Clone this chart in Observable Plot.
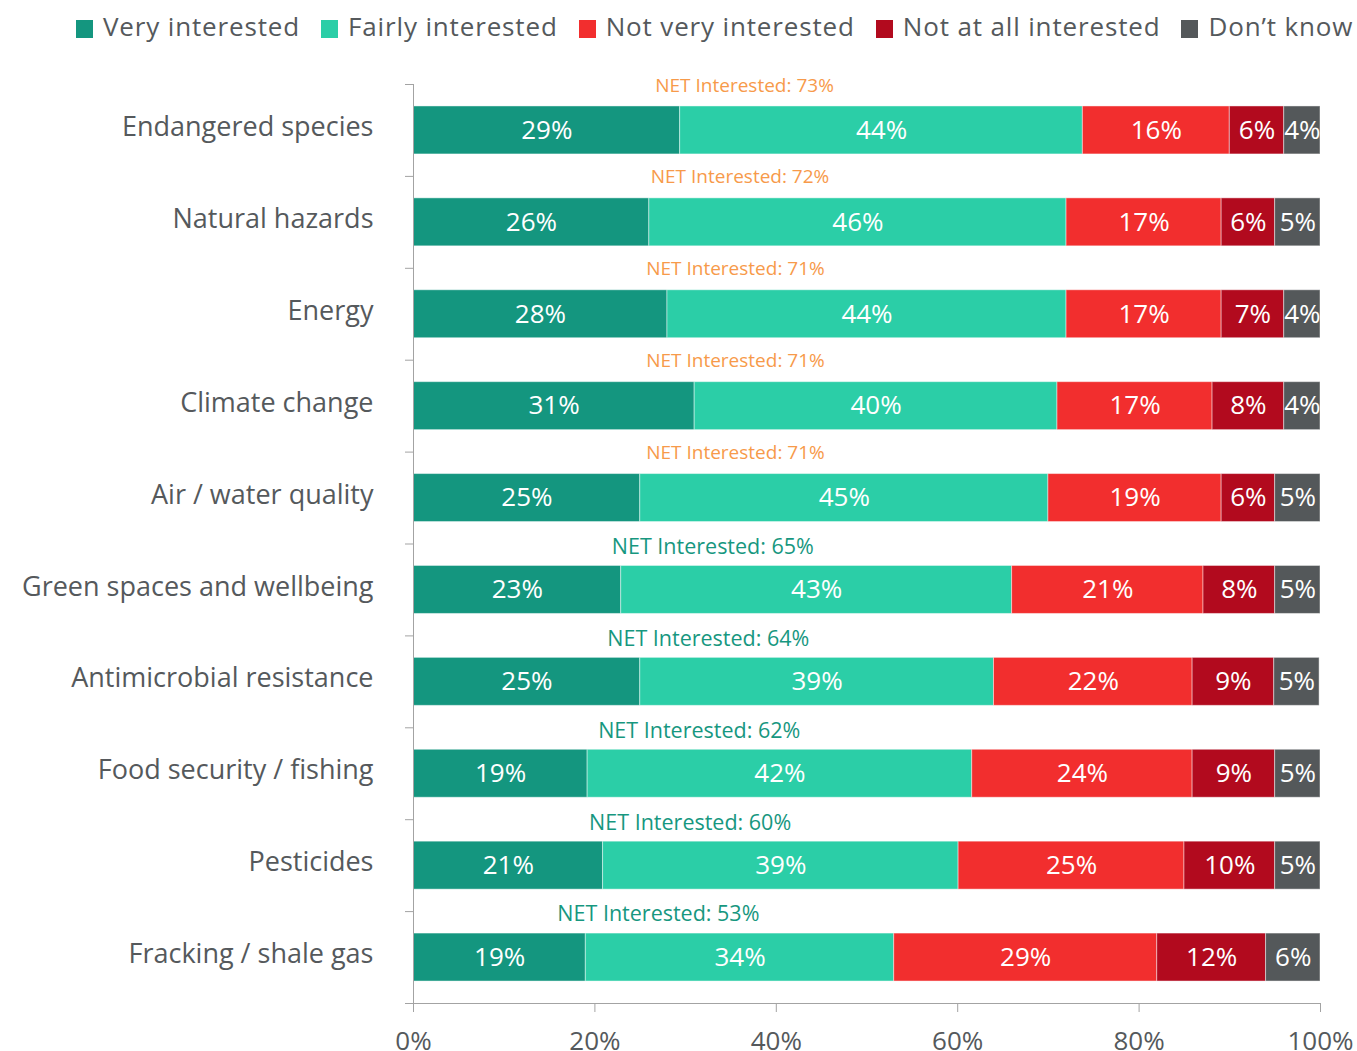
<!DOCTYPE html>
<html><head><meta charset="utf-8">
<script src="https://cdn.jsdelivr.net/npm/d3@7"></script>
<script src="https://cdn.jsdelivr.net/npm/@observablehq/plot@0.6"></script>
<style>
body{margin:0;background:#fff;font-family:"Open Sans",sans-serif;color:#55595c;}
#legend{display:flex;height:48px;padding-left:76px;box-sizing:border-box;font-size:26px;white-space:nowrap;letter-spacing:0.85px;}
.item{display:flex;align-items:center;margin-right:21px;margin-top:8px;height:36px;}
.sw{width:17px;height:18px;margin-right:10px;margin-top:6px;}
svg{overflow:visible;display:block}
</style></head><body>
<div id="legend"></div><div id="chart"></div>
<script>
const topics = ["Endangered species","Natural hazards","Energy","Climate change","Air / water quality","Green spaces and wellbeing","Antimicrobial resistance","Food security / fishing","Pesticides","Fracking / shale gas"];
const responses = ["Very interested","Fairly interested","Not very interested","Not at all interested","Don’t know"];
const colors = ["#14967f","#2bcea7","#f22e2e","#b20a1e","#54585a"];
const veryInterested   = [29.4,26.0,28.0,31.0,25.0,22.9,25.0,19.2,20.9,19.0];
const fairlyInterested = [44.4,46.0,44.0,40.0,45.0,43.1,39.0,42.4,39.2,34.0];
const notVery          = [16.2,17.1,17.1,17.1,19.1,21.1,21.9,24.3,24.9,29.0];
const notAtAll         = [6.0,5.9,6.9,7.9,5.9,7.9,9.0,9.1,10.0,12.0];
const dontKnow         = [4.0,5.0,4.0,4.0,5.0,5.0,5.0,5.0,5.0,6.0];
const netInterested    = [73,72,71,71,71,65,64,62,60,53];
const xTicks = [0,20,40,60,80,100];

const series = [veryInterested, fairlyInterested, notVery, notAtAll, dontKnow];
const rows = topics.flatMap((t,i) => responses.map((r,j) => ({topic:t, response:r, value:series[j][i]})));
const netRows = topics.map((t,i) => ({topic:t, net:netInterested[i]}));

// legend
const lg = document.getElementById("legend");
responses.forEach((r,i) => {
  const it = document.createElement("div"); it.className = "item";
  const sw = document.createElement("div"); sw.className = "sw"; sw.style.background = colors[i];
  const tx = document.createElement("span"); tx.textContent = r;
  it.appendChild(sw); it.appendChild(tx); lg.appendChild(it);
});

const yStep = 91.9;
const axisColor = "#a3a3a3";
const textColor = "#55595c";
const chart = Plot.plot({
  width: 1357, height: 1003,
  marginTop: 36, marginBottom: 48, marginLeft: 413, marginRight: 37,
  style: {fontFamily: "Open Sans", fontSize: "26px", color: textColor, background: "white", overflow: "visible"},
  x: {domain: [0,100], round: false},
  y: {domain: topics, paddingInner: 0.478, paddingOuter: 0.239, align: 0.5, round: false},
  color: {domain: responses, range: colors},
  marks: [
    Plot.barX(rows, Plot.stackX({x: "value", y: "topic", fill: "response", order: responses, stroke: "white", strokeWidth: 1, strokeOpacity: 0.45})),
    Plot.text(rows, Plot.stackX({x: "value", y: "topic", z: "response", order: responses, text: d => Math.round(d.value) + "%", fill: "white", fontSize: 26})),
    Plot.text(netRows, {filter: d => d.net >= 70, x: d => d.net/2, y: "topic", text: d => `NET Interested: ${d.net}%`, dy: -45, fill: "#f79a4a", fontSize: 19}),
    Plot.text(netRows, {filter: d => d.net < 70, x: d => d.net/2 + 0.5, y: "topic", text: d => `NET Interested: ${d.net}%`, dy: -43, fill: "#17977f", fontSize: 21.5, style: "letter-spacing:0.6px"}),
    Plot.axisY({tickSize: 8, dy: -yStep/2, text: null, stroke: axisColor, label: null}),
    Plot.axisY({tickSize: 0, tickPadding: 40, dy: -3, fontSize: 27, fill: textColor, label: null, style: "letter-spacing:1px"}),
    Plot.axisX({ticks: xTicks, tickFormat: d => d + "%", tickSize: 9, tickPadding: 19, stroke: axisColor, fill: textColor, fontSize: 26, label: null}),
    Plot.ruleX([0], {stroke: axisColor}),
    Plot.frame({anchor: "bottom", insetLeft: -8, stroke: axisColor})
  ]
});
document.getElementById("chart").appendChild(chart);
</script>
</body></html>
